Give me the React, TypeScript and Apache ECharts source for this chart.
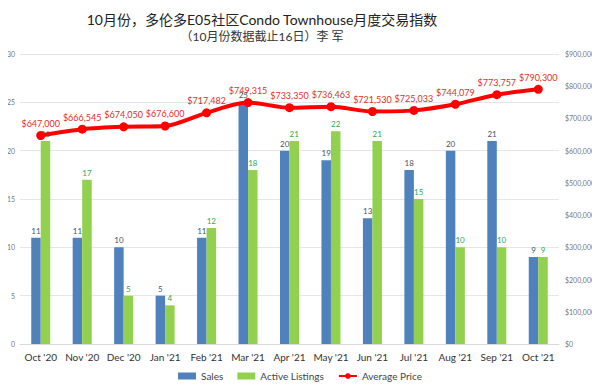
import React, { useEffect, useRef } from "react";
import * as echarts from "echarts";

const categories = ["Oct '20", "Nov '20", "Dec '20", "Jan '21", "Feb '21", "Mar '21", "Apr '21", "May '21", "Jun '21", "Jul '21", "Aug '21", "Sep '21", "Oct '21"];
const sales = [11, 11, 10, 5, 11, 25, 20, 19, 13, 18, 20, 21, 9];
const activeListings = [21, 17, 5, 4, 12, 18, 21, 22, 21, 15, 10, 10, 9];
const avgPrice = [647000, 666545, 674050, 676600, 717482, 749315, 733350, 736463, 721530, 725033, 744079, 773757, 790300];

const titleText = "10月份，多伦多E05社区Condo Townhouse月度交易指数";
const subText = "（10月份数据截止16日）李 军";

const fmtMoney = (v: number) => "$" + v.toLocaleString("en-US");

export default function App() {
  const ref = useRef<HTMLDivElement>(null);
  useEffect(() => {
    if (!ref.current) return;
    const chart = echarts.init(ref.current, undefined, { renderer: "svg" });
    const font = "Lato, 'Open Sans', sans-serif";
    const cjk = "Lato, 'Noto Sans CJK SC', sans-serif";
    chart.setOption({
      animation: false,
      backgroundColor: "#ffffff",
      textStyle: { fontFamily: font },
      title: {
        text: titleText,
        subtext: subText,
        left: 257,
        textAlign: "center",
        top: 7,
        itemGap: 5,
        textStyle: { fontFamily: cjk, fontSize: 14, fontWeight: "normal", color: "#222" },
        subtextStyle: { fontFamily: cjk, fontSize: 12, color: "#333" },
      },
      legend: {
        bottom: 5,
        left: "center",
        itemWidth: 18,
        itemHeight: 7,
        itemGap: 14,
        textStyle: { fontSize: 10, color: "#444", fontFamily: font },
        data: [
          { name: "Sales", icon: "rect" },
          { name: "Active Listings", icon: "rect" },
          { name: "Average Price" },
        ],
      },
      grid: { left: 20, right: 41, top: 54, bottom: 47, containLabel: false },
      xAxis: {
        type: "category",
        data: categories,
        axisTick: { show: false },
        axisLine: { lineStyle: { color: "#d9d9d9" } },
        axisLabel: { fontSize: 10, color: "#333", margin: 8, interval: 0 },
      },
      yAxis: [
        {
          type: "value",
          min: 0,
          max: 30,
          interval: 5,
          axisLabel: { fontSize: 7, color: "#777", margin: 5 },
          splitLine: { lineStyle: { color: "#e6e6e6" } },
          axisLine: { show: false },
          axisTick: { show: false },
        },
        {
          type: "value",
          min: 0,
          max: 900000,
          interval: 100000,
          position: "right",
          axisLabel: { fontSize: 7, color: "#777", margin: 6, formatter: (v: number) => fmtMoney(v) },
          splitLine: { show: false },
          axisLine: { show: false },
          axisTick: { show: false },
        },
      ],
      series: [
        {
          name: "Sales",
          type: "bar",
          data: sales,
          barWidth: 9.5,
          barGap: "0%",
          itemStyle: { color: "#4f81bd" },
          label: { show: true, position: "top", fontSize: 8, color: "#44546a", distance: 3 },
        },
        {
          name: "Active Listings",
          type: "bar",
          data: activeListings,
          barWidth: 9.5,
          itemStyle: { color: "#92d050" },
          label: { show: true, position: "top", fontSize: 8, color: "#2ea84a", distance: 3 },
        },
        {
          name: "Average Price",
          type: "line",
          yAxisIndex: 1,
          data: avgPrice,
          smooth: 0.3,
          symbol: "circle",
          symbolSize: 9,
          lineStyle: { color: "#ff0000", width: 4 },
          itemStyle: { color: "#ff0000" },
          label: { show: true, position: "top", fontSize: 9, color: "#e0302a", distance: 3, formatter: (p: any) => fmtMoney(p.value) },
          z: 5,
        },
      ],
    });
    return () => chart.dispose();
  }, []);
  return <div ref={ref} style={{ width: 600, height: 391, margin: -8 }} />;
}
